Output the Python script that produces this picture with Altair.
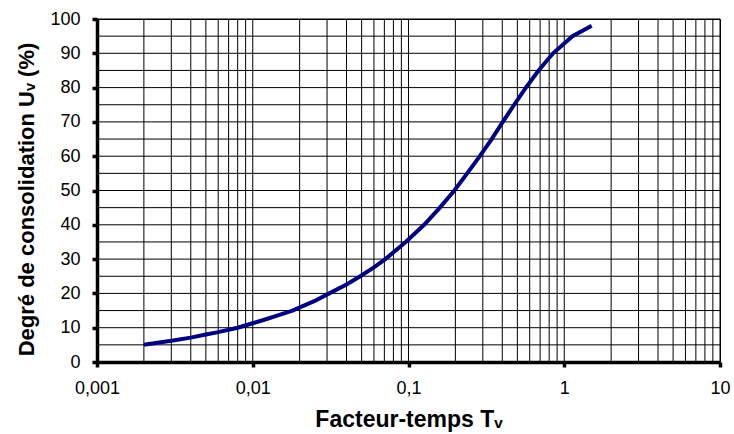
import altair as alt
import pandas as pd

# Read values (consolidation curve as drawn)
tv_values = [0.002, 0.003, 0.004, 0.005, 0.006, 0.008, 0.010, 0.012, 0.015, 0.018,
             0.025, 0.031, 0.040, 0.049, 0.060, 0.071, 0.096, 0.126, 0.159, 0.197,
             0.238, 0.287, 0.342, 0.403, 0.477, 0.567, 0.684, 0.848, 1.129, 1.5]
uv_values = [5.0, 6.2, 7.1, 8.0, 8.7, 10.0, 11.3, 12.4, 13.8, 15.0,
             17.8, 20.0, 22.6, 25.0, 27.6, 30.0, 35.0, 40.0, 45.0, 50.0,
             55.0, 60.0, 65.0, 70.0, 75.0, 80.0, 85.0, 90.0, 95.0, 98.0]

x_grid = [m * 10 ** e for e in (-3, -2, -1, 0) for m in range(1, 10)] + [10]
y_grid = list(range(0, 101, 5))
x_ticks = [0.001, 0.01, 0.1, 1, 10]
y_ticks = list(range(0, 101, 10))

curve = pd.DataFrame({"Tv": tv_values, "Uv": uv_values})
xg = pd.DataFrame({"Tv": x_grid})
yg = pd.DataFrame({"Uv": y_grid})

FONT = "Liberation Sans"
xscale = alt.Scale(type="log", domain=[0.001, 10], nice=False)
yscale = alt.Scale(domain=[0, 100], nice=False, zero=False)

xaxis = alt.Axis(
    values=x_ticks,
    labelExpr="replace(toString(datum.value), '.', ',')",
    grid=False,
    tickSize=5,
    tickWidth=3.5,
    tickColor="#000000",
    domainColor="#000000",
    domainWidth=3.5,
    labelFont=FONT,
    labelFontSize=18,
    labelColor="#000000",
    labelPadding=12,
    labelFlush=False,
    labelOverlap=False,
    title="Facteur-temps Tᵥ",
    titleFont=FONT,
    titleFontSize=23,
    titleFontWeight="bold",
    titleColor="#000000",
    titleX=311.5,
    titleY=64,
    titleBaseline="alphabetic",
    titleAlign="center",
    zindex=1,
)
yaxis = alt.Axis(
    values=y_ticks,
    grid=False,
    tickSize=5,
    tickWidth=3.5,
    tickColor="#000000",
    domainColor="#000000",
    domainWidth=3.5,
    labelFont=FONT,
    labelFontSize=18,
    labelColor="#000000",
    labelPadding=12,
    labelFlush=False,
    labelOverlap=False,
    title="Degré de consolidation Uᵥ (%)",
    titleFont=FONT,
    titleFontSize=22,
    titleFontWeight="bold",
    titleColor="#000000",
    titleAngle=-90,
    titleX=-64,
    titleY=180,
    titleBaseline="alphabetic",
    titleAlign="center",
    zindex=1,
)

X = alt.X("Tv:Q", scale=xscale, axis=xaxis)
Y = alt.Y("Uv:Q", scale=yscale, axis=yaxis)

vgrid = alt.Chart(xg).mark_rule(color="#000000", strokeWidth=1).encode(x=X)
hgrid = alt.Chart(yg).mark_rule(color="#000000", strokeWidth=1).encode(y=Y)
line = alt.Chart(curve).mark_line(color="#000080", strokeWidth=4).encode(x=X, y=Y)

chart = (
    alt.layer(vgrid, hgrid, line)
    .properties(
        width=623,
        height=343,
        autosize=alt.AutoSizeParams(type="none"),
        padding={"left": 97, "top": 19, "right": 14, "bottom": 72},
        background="white",
    )
    .configure_view(stroke="#000000", strokeWidth=1)
)

chart.save("out.html", embed_options={"renderer": "svg", "actions": False})
